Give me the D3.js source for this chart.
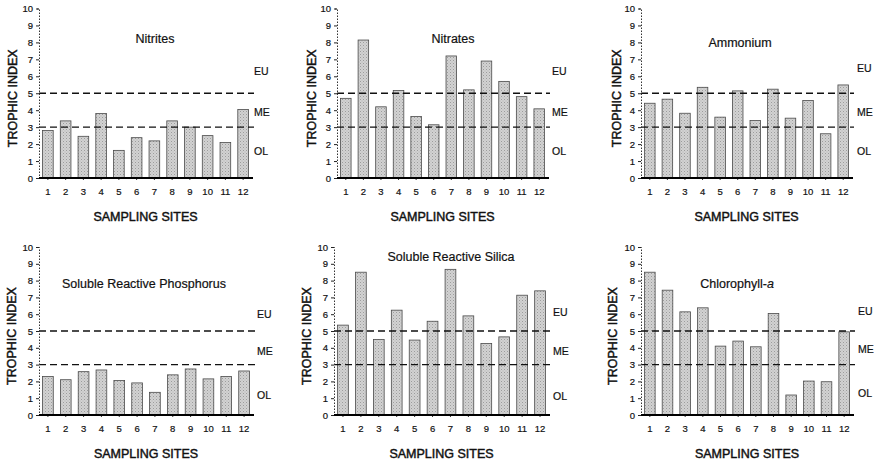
<!DOCTYPE html>
<html>
<head>
<meta charset="utf-8">
<script src="https://cdn.jsdelivr.net/npm/d3@7"></script>
<style>
  body { margin: 0; background: #fff; }
  svg text { font-family: "Liberation Sans", Arial, sans-serif; fill: #111; stroke: #111; stroke-width: 0.2px; }
</style>
</head>
<body>
<div id="chart"></div>
<script>
// sampling sites 1..12
let sites = ["1", "2", "3", "4", "5", "6", "7", "8", "9", "10", "11", "12"];
let yTicks = [0, 1, 2, 3, 4, 5, 6, 7, 8, 9, 10];
let thresholds = [5, 3];
let zoneLabels = ["EU", "ME", "OL"];

let nitrites = [2.8, 3.37, 2.46, 3.8, 1.63, 2.38, 2.19, 3.37, 3.0, 2.5, 2.09, 4.04];
let nitrates = [4.7, 8.14, 4.2, 5.16, 3.63, 3.14, 7.2, 5.2, 6.9, 5.7, 4.8, 4.08];
let ammonium = [4.41, 4.65, 3.82, 5.35, 3.59, 5.14, 3.39, 5.24, 3.53, 4.57, 2.61, 5.49];
let phosphorus = [2.29, 2.1, 2.58, 2.68, 2.05, 1.91, 1.35, 2.39, 2.74, 2.15, 2.29, 2.62];
let silica = [5.35, 8.5, 4.5, 6.24, 4.46, 5.58, 8.67, 5.9, 4.26, 4.65, 7.13, 7.39];
let chlorophyll = [8.5, 7.43, 6.14, 6.38, 4.1, 4.4, 4.06, 6.04, 1.19, 2.02, 1.98, 4.95];

let width = 875;
let height = 466;

let svg = d3.select("#chart")
    .append("svg")
    .attr("width", width)
    .attr("height", height);

// stippled grey fill like the printed screentone
let pat = svg.append("defs").append("pattern")
    .attr("id", "stipple")
    .attr("width", 3)
    .attr("height", 3)
    .attr("patternUnits", "userSpaceOnUse");
pat.append("rect").attr("width", 3).attr("height", 3).attr("fill", "#d2d2d2");
pat.append("rect").attr("x", 0).attr("y", 0).attr("width", 1).attr("height", 1).attr("fill", "#9c9c9c");
pat.append("rect").attr("x", 1.5).attr("y", 1.5).attr("width", 1).attr("height", 1).attr("fill", "#b4b4b4");

let panels = [
    {title: "Nitrites", values: nitrites, left: 39, right: 252, top: 8.5, bottom: 178,
        titleX: 155, titleY: 43, yLabX: 13, labelX: 254, zones: [6.3, 3.9, 1.6]},
    {title: "Nitrates", values: nitrates, left: 337, right: 548, top: 8.5, bottom: 178,
        titleX: 453, titleY: 43, yLabX: 312, labelX: 552, zones: [6.3, 3.9, 1.6]},
    {title: "Ammonium", values: ammonium, left: 641, right: 852, top: 8.5, bottom: 178,
        titleX: 740, titleY: 47, yLabX: 617, labelX: 857, zones: [6.5, 3.9, 1.6]},
    {title: "Soluble Reactive Phosphorus", values: phosphorus, left: 39, right: 253, top: 247, bottom: 415,
        titleX: 144, titleY: 288, yLabX: 12, labelX: 257, zones: [6.0, 3.8, 1.2]},
    {title: "Soluble Reactive Silica", values: silica, left: 334, right: 549, top: 247, bottom: 415,
        titleX: 451, titleY: 261, yLabX: 307, labelX: 553, zones: [6.1, 3.8, 1.1]},
    {title: "Chlorophyll-", italic: "a", values: chlorophyll, left: 641, right: 853, top: 247, bottom: 415,
        titleX: 737, titleY: 288, yLabX: 613, labelX: 858, zones: [6.2, 3.9, 1.3]}
];

panels.forEach(function (p) {
    let g = svg.append("g");

    let x = d3.scaleBand()
        .domain(sites)
        .range([p.left, p.right])
        .paddingInner(0.4)
        .paddingOuter(0.2);
    let y = d3.scaleLinear()
        .domain([0, 10])
        .range([p.bottom, p.top]);

    // bars
    g.selectAll(".bar")
        .data(p.values)
        .enter()
        .append("rect")
        .attr("class", "bar")
        .attr("x", (d, i) => x(sites[i]))
        .attr("y", d => y(d))
        .attr("width", x.bandwidth())
        .attr("height", d => y(0) - y(d))
        .attr("fill", "url(#stipple)")
        .attr("stroke", "#4a4a4a")
        .attr("stroke-width", 0.8);

    // threshold lines
    g.selectAll(".thr")
        .data(thresholds)
        .enter()
        .append("line")
        .attr("x1", p.left)
        .attr("x2", p.right + 2)
        .attr("y1", d => y(d))
        .attr("y2", d => y(d))
        .attr("stroke", "#111")
        .attr("stroke-width", 1.3)
        .attr("stroke-dasharray", "7,4");

    // y axis
    let yAxis = g.append("g")
        .attr("transform", "translate(" + p.left + ",0)")
        .call(d3.axisLeft(y).tickValues(yTicks).tickSize(3).tickPadding(3));
    yAxis.select(".domain")
        .attr("stroke", "#333")
        .attr("stroke-dasharray", "1.5,1.5");
    yAxis.selectAll(".tick line").attr("stroke", "#222");
    yAxis.selectAll("text")
        .style("font-size", "9.5px")
        .style("font-family", "'Liberation Sans', Arial, sans-serif");

    // x axis: heavy baseline and site numbers
    let xAxis = g.append("g")
        .attr("transform", "translate(0," + p.bottom + ")")
        .call(d3.axisBottom(x).tickSize(2).tickPadding(8));
    xAxis.select(".domain").remove();
    xAxis.selectAll(".tick line").attr("stroke", "#333");
    xAxis.selectAll("text")
        .style("font-size", "9.5px")
        .style("font-family", "'Liberation Sans', Arial, sans-serif");
    g.append("line")
        .attr("x1", p.left)
        .attr("x2", p.right + 1)
        .attr("y1", p.bottom)
        .attr("y2", p.bottom)
        .attr("stroke", "#000")
        .attr("stroke-width", 2);

    // axis titles
    g.append("text")
        .attr("x", (p.left + p.right) / 2)
        .attr("y", p.bottom + 43)
        .style("text-anchor", "middle")
        .style("font-size", "12.5px")
        .style("stroke-width", "0.45px")
        .text("SAMPLING SITES");
    g.append("text")
        .attr("transform", "translate(" + p.yLabX + "," + ((p.top + p.bottom) / 2 + 5) + ") rotate(-90)")
        .attr("dy", "0.35em")
        .style("text-anchor", "middle")
        .style("font-size", "12.5px")
        .style("stroke-width", "0.45px")
        .text("TROPHIC INDEX");

    // panel title
    let t = g.append("text")
        .attr("x", p.titleX)
        .attr("y", p.titleY)
        .style("text-anchor", "middle")
        .style("font-size", "12.5px")
        .text(p.title);
    if (p.italic) {
        t.append("tspan").style("font-style", "italic").text(p.italic);
    }

    // trophic zone labels
    g.selectAll(".zone")
        .data(zoneLabels)
        .enter()
        .append("text")
        .attr("x", p.labelX)
        .attr("y", (d, i) => y(p.zones[i]))
        .attr("dy", "0.35em")
        .style("font-size", "10.5px")
        .text(d => d);
});
</script>
</body>
</html>
